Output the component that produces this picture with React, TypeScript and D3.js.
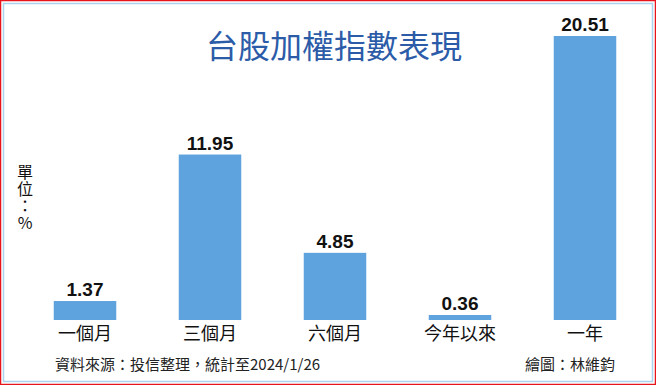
import React from "react";
import * as d3 from "d3";

const categories = ["一個月", "三個月", "六個月", "今年以來", "一年"];
const values = [1.37, 11.95, 4.85, 0.36, 20.51];
const valueLabels = ["1.37", "11.95", "4.85", "0.36", "20.51"];
const title = "台股加權指數表現";
const unitLabel = "單位：%";
const sourceText = "資料來源：投信整理，統計至2024/1/26";
const creditText = "繪圖：林維鈞";

const W = 656;
const H = 385;
const baseY = 320;
const topY = 36;

export default function App() {
  const x = d3
    .scaleBand<string>()
    .domain(categories)
    .range([22.5, 647.5])
    .paddingInner(0.5)
    .paddingOuter(0.25);
  const y = d3.scaleLinear().domain([0, 20.51]).range([baseY, topY]);
  const cjk = "'Noto Sans CJK TC', 'Noto Sans CJK SC', sans-serif";
  const num = "'Liberation Sans', Arial, sans-serif";
  return (
    <svg width={W} height={H} style={{ position: "absolute", left: 0, top: 0, display: "block" }}>
      <rect x={0} y={0} width={W} height={H} fill="#ffffff" />
      <rect x={0.5} y={0.5} width={W - 1} height={H - 1} fill="none" stroke="#e8141c" strokeWidth={1.5} />
      <rect x={3.5} y={3.5} width={W - 7} height={H - 7} fill="none" stroke="#a9d3ee" strokeWidth={1.5} />
      <text x={334} y={58} textAnchor="middle" fontFamily={cjk} fontSize={32} fill="#2c5ca8">
        {title}
      </text>
      {categories.map((c, i) => (
        <g key={c}>
          <rect
            x={x(c)!}
            y={y(values[i])}
            width={x.bandwidth()}
            height={baseY - y(values[i])}
            fill="#5ea2de"
          />
          <text
            x={x(c)! + x.bandwidth() / 2}
            y={y(values[i]) - 5}
            textAnchor="middle"
            fontFamily={num}
            fontWeight="bold"
            fontSize={19}
            fill="#111"
          >
            {valueLabels[i]}
          </text>
          <text
            x={x(c)! + x.bandwidth() / 2}
            y={340}
            textAnchor="middle"
            fontFamily={cjk}
            fontSize={18}
            fill="#111"
          >
            {c}
          </text>
        </g>
      ))}
      <text
        x={25}
        y={164}
        fontFamily={cjk}
        fontSize={16}
        fill="#111"
        style={{ writingMode: "vertical-rl", textOrientation: "upright" } as React.CSSProperties}
        letterSpacing={1}
      >
        {unitLabel}
      </text>
      <text x={55} y={370} fontFamily={cjk} fontSize={15} fill="#222">
        {sourceText}
      </text>
      <text x={615} y={370} textAnchor="end" fontFamily={cjk} fontSize={15} fill="#222">
        {creditText}
      </text>
    </svg>
  );
}
